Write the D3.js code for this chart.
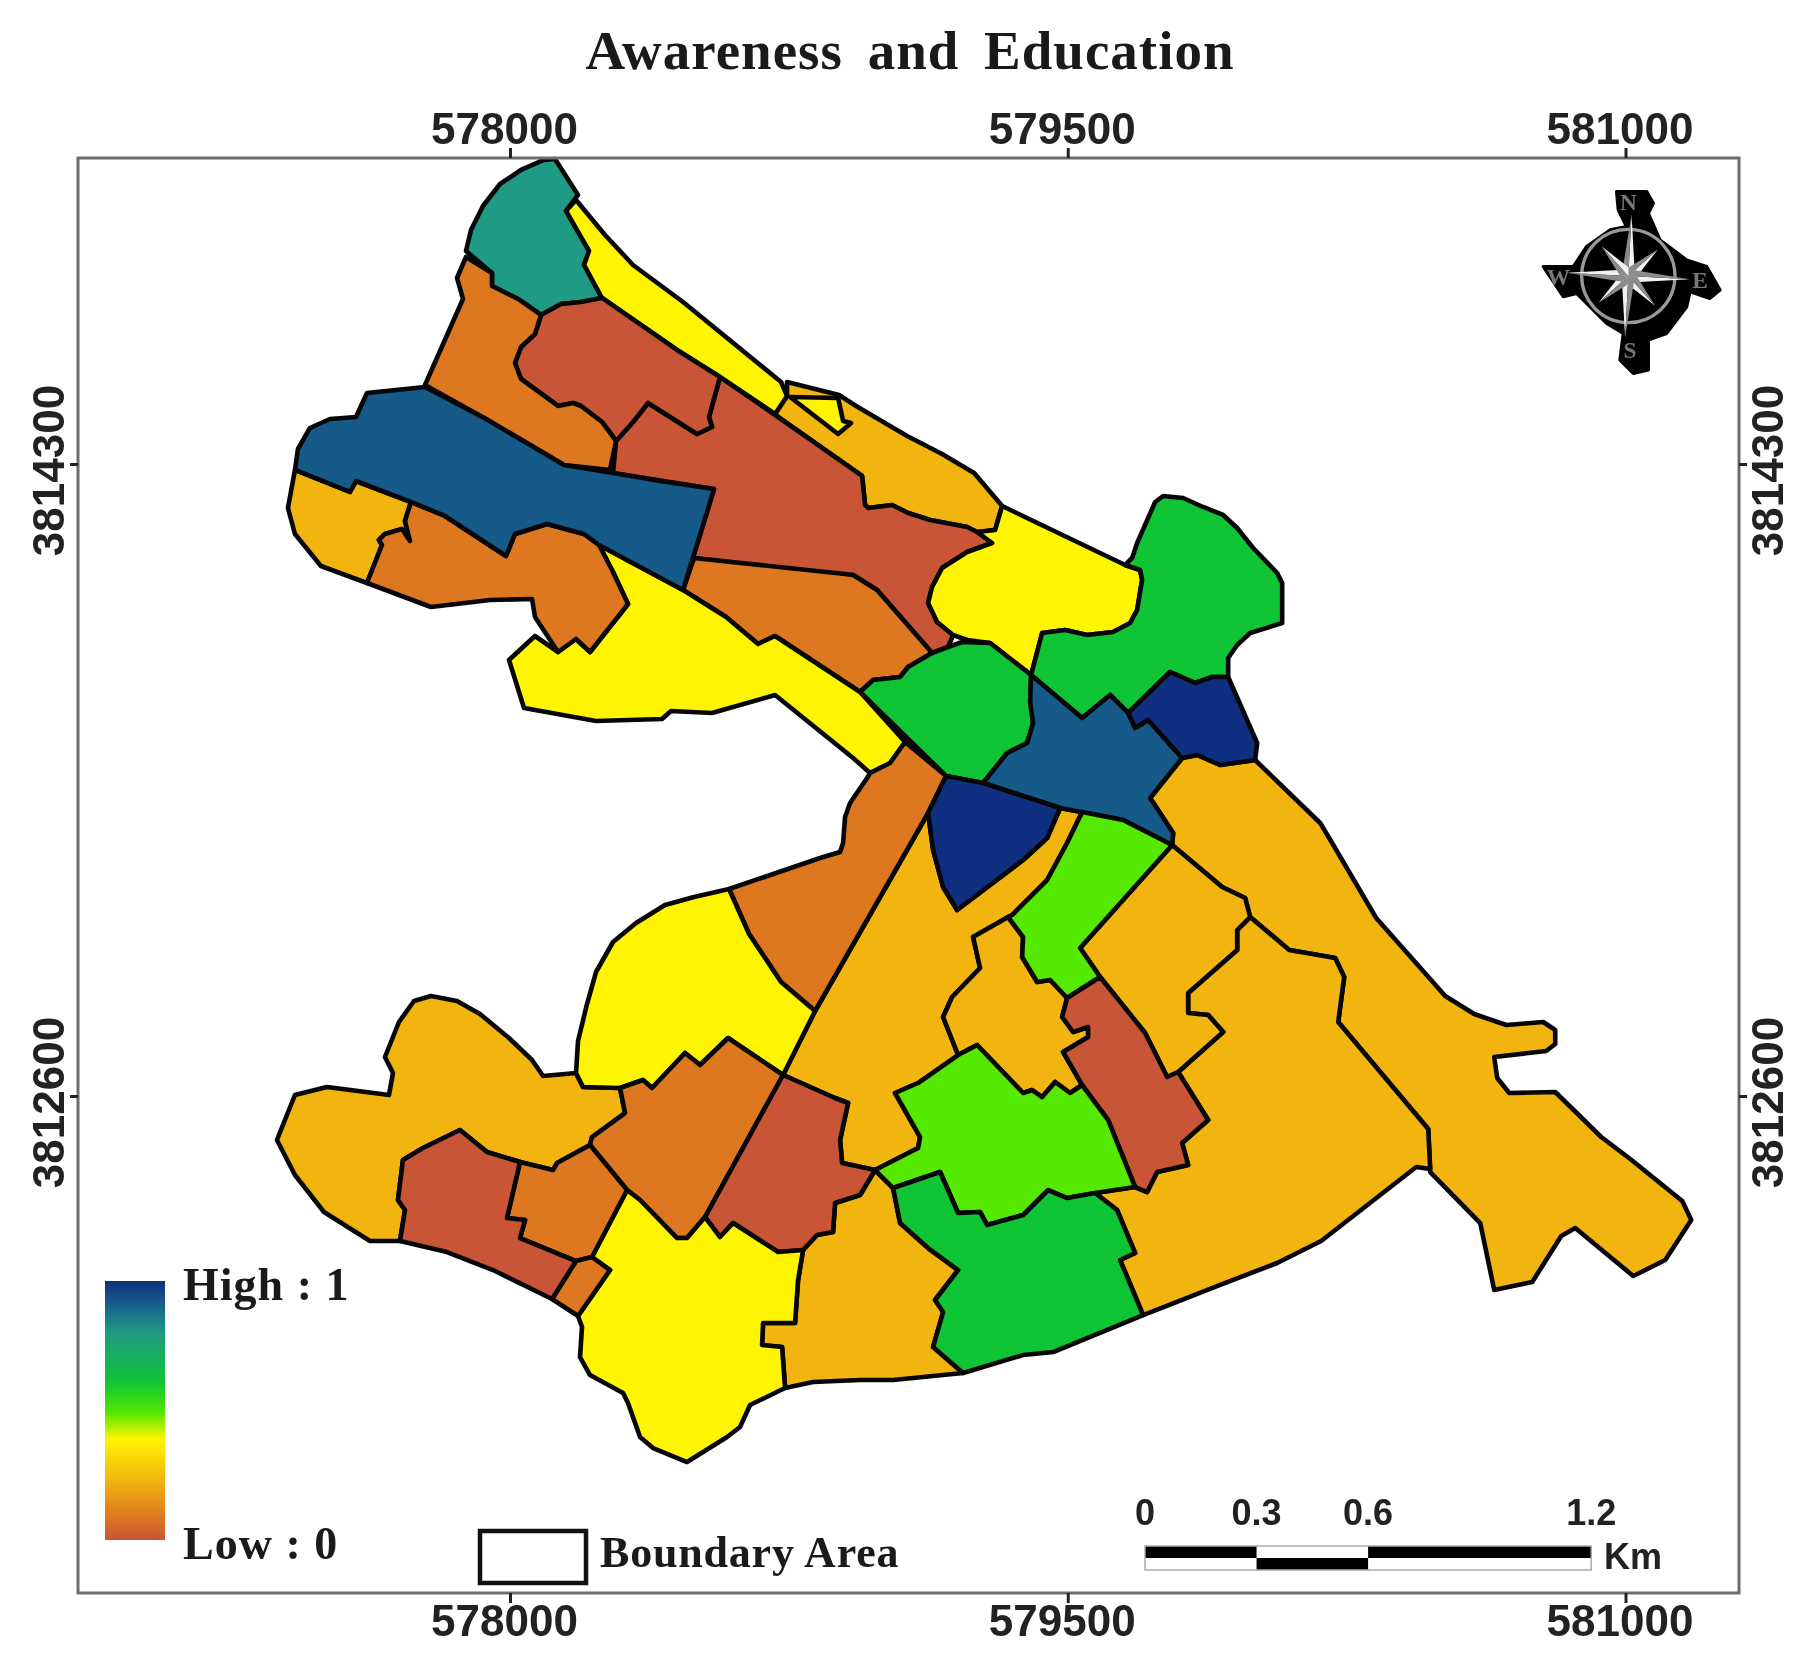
<!DOCTYPE html>
<html lang="en">
<head>
<meta charset="utf-8">
<title>Awareness and Education</title>
<script src="https://d3js.org/d3.v7.min.js"></script>
<style>
  html, body { margin: 0; background: #fff; }
  svg { display: block; filter: blur(0.6px); }
  .sans { font-family: "Liberation Sans", Arial, sans-serif; font-weight: bold; fill: #222; }
  .serif { font-family: "Liberation Serif", "Times New Roman", serif; font-weight: bold; fill: #1a1a1a; }
</style>
</head>
<body>
<div id="chart"></div>
<script>
// tick labels of the map grid
var eastingTicks = [578000, 579500, 581000];
var northingTicks = [3814300, 3812600];

// colour ramp of the legend, low to high
var rampValues = [0, 0.09, 0.23, 0.39, 0.49, 0.61, 0.80, 0.92, 1];
var rampColors = ["#c95537", "#dd7820", "#f2b50f", "#fff500", "#55e800", "#10c535", "#1f9a85", "#165a8a", "#0f2f80"];

// scale bar
var scaleKm = [0, 0.3, 0.6, 1.2];

// wards, digitised as [col, row] on a grid of 2.69 m cells
var teal = [[555,159],[578,195],[566,211],[589,251],[584,265],[602,298],[581,302],[561,304],[541,315],[518,299],[492,286],[492,273],[466,251],[471,230],[483,206],[500,184],[521,170],[544,160]];
var stripYellow = [[576,200],[605,235],[633,265],[683,302],[781,382],[787,396],[775,414],[720,377],[677,350],[602,298],[584,265],[589,251],[566,211]];
var goldNorth = [[775,414],[787,396],[787,382],[839,395],[856,406],[907,436],[942,454],[974,473],[997,500],[1002,506],[995,530],[977,532],[967,527],[930,520],[908,513],[892,505],[868,508],[865,505],[862,476],[778,417]];
var tinyYellow = [[790,397],[838,398],[843,421],[851,423],[838,434]];
var brickTop = [[541,315],[561,304],[581,302],[602,298],[677,350],[720,377],[709,417],[712,427],[697,434],[648,403],[633,422],[616,441],[602,422],[581,406],[573,403],[558,406],[521,379],[515,363],[521,347],[535,334]];
var orangeWest = [[466,257],[457,278],[463,299],[425,385],[486,419],[564,465],[610,470],[616,441],[602,422],[581,406],[573,403],[558,406],[521,379],[515,363],[521,347],[535,334],[541,315],[518,299],[492,286],[492,273]];
var brickMain = [[613,473],[616,441],[633,422],[648,403],[697,434],[712,427],[709,417],[720,377],[778,417],[862,476],[865,505],[868,508],[892,505],[908,513],[930,520],[967,527],[977,532],[992,543],[967,552],[942,568],[932,587],[928,603],[937,622],[953,635],[948,647],[932,653],[877,590],[853,575],[820,575],[694,558],[683,590],[714,489]];
var orangeMid = [[694,558],[845,574],[853,575],[877,590],[932,653],[908,667],[900,677],[873,680],[860,692],[775,636],[758,644],[726,617],[683,590]];
var blueLong = [[425,387],[367,393],[356,417],[330,419],[310,428],[298,449],[295,470],[350,492],[356,481],[411,502],[445,516],[506,556],[515,534],[547,524],[584,534],[599,545],[683,590],[714,489],[660,481],[613,473],[564,465],[486,419]];
var goldWest = [[295,470],[288,508],[295,534],[321,566],[367,583],[382,545],[379,540],[385,534],[402,529],[410,541],[405,521],[411,502],[356,481],[350,492]];
var orangeLobe = [[367,583],[431,607],[490,600],[532,599],[535,617],[558,652],[576,639],[590,652],[628,604],[613,572],[599,545],[584,534],[547,524],[515,534],[506,556],[445,516],[411,502],[405,521],[410,541],[402,529],[385,534],[379,540],[382,545]];
var yellowLobe = [[599,545],[683,590],[726,617],[758,644],[775,636],[860,692],[905,742],[890,763],[870,773],[853,758],[775,695],[712,713],[671,711],[662,719],[596,721],[524,708],[509,660],[535,636],[558,652],[576,639],[590,652],[628,604],[613,572]];
var yellowCap = [[1002,506],[1125,565],[1140,570],[1142,580],[1137,610],[1130,623],[1113,632],[1087,635],[1065,630],[1042,633],[1031,675],[990,643],[967,640],[953,635],[937,622],[928,603],[932,587],[942,568],[967,552],[992,543],[977,532],[995,530]];
var greenEast = [[1125,565],[1132,558],[1137,543],[1155,502],[1163,496],[1183,498],[1203,507],[1223,515],[1237,528],[1253,548],[1277,573],[1282,583],[1282,623],[1250,633],[1237,645],[1228,658],[1228,677],[1212,677],[1195,683],[1170,672],[1128,713],[1110,695],[1082,718],[1031,675],[1042,633],[1065,630],[1087,635],[1113,632],[1130,623],[1137,610],[1142,580],[1140,570]];
var greenMid = [[962,642],[990,643],[1031,675],[1030,702],[1033,723],[1027,743],[1007,753],[983,783],[946,776],[860,692],[873,680],[900,677],[908,667],[932,653],[948,647]];
var blueMid = [[1031,675],[1082,718],[1110,695],[1128,713],[1135,728],[1148,720],[1182,758],[1150,798],[1173,833],[1172,845],[1123,820],[1060,808],[983,783],[1007,753],[1027,743],[1033,723],[1030,702]];
var navyEast = [[1128,713],[1170,672],[1195,683],[1212,677],[1228,677],[1257,743],[1255,760],[1220,765],[1197,755],[1182,758],[1148,720],[1135,728]];
var navyMid = [[946,776],[983,783],[1060,808],[1047,838],[1023,860],[957,910],[943,887],[933,850],[928,813]];
var orangeNeck = [[870,773],[890,763],[905,742],[946,776],[928,813],[815,1011],[781,982],[749,934],[729,889],[820,858],[840,852],[843,843],[845,817],[850,803],[867,778]];
var yellowSouth = [[729,889],[694,897],[665,905],[636,923],[613,942],[596,972],[587,1004],[578,1041],[576,1073],[583,1087],[620,1088],[643,1080],[652,1088],[685,1053],[700,1065],[728,1038],[783,1075],[815,1011],[781,982],[749,934]];
var orangeS = [[728,1038],[700,1065],[685,1053],[652,1088],[643,1080],[620,1088],[625,1113],[592,1137],[590,1145],[627,1190],[640,1200],[677,1238],[687,1238],[705,1217],[783,1075]];
var brickS = [[783,1075],[705,1217],[720,1237],[733,1223],[778,1252],[803,1250],[817,1235],[833,1232],[835,1203],[860,1195],[875,1170],[842,1163],[840,1140],[848,1103],[835,1098]];
var goldCentre = [[928,813],[933,850],[943,887],[957,910],[1023,860],[1047,838],[1060,808],[1082,812],[1067,843],[1047,880],[1012,915],[973,937],[980,968],[952,997],[943,1017],[958,1055],[918,1083],[895,1093],[920,1137],[918,1148],[875,1170],[842,1163],[840,1140],[848,1103],[835,1098],[783,1075],[815,1011]];
var goldDiamond = [[1008,917],[973,937],[980,968],[952,997],[943,1017],[958,1055],[977,1045],[1023,1093],[1032,1090],[1042,1097],[1055,1082],[1070,1093],[1082,1085],[1063,1052],[1088,1037],[1088,1027],[1073,1032],[1062,1017],[1067,998],[1050,980],[1037,982],[1022,957],[1023,937]];
var limeStrip = [[1082,812],[1123,820],[1172,845],[1080,948],[1100,977],[1067,998],[1050,980],[1037,982],[1022,957],[1023,937],[1008,917],[1012,915],[1047,880],[1067,843]];
var goldRight = [[1172,845],[1080,948],[1100,977],[1145,1033],[1167,1077],[1178,1072],[1223,1032],[1208,1015],[1188,1013],[1188,993],[1237,950],[1237,930],[1250,917],[1245,898],[1222,887]];
var brickThin = [[1100,977],[1067,998],[1062,1017],[1073,1032],[1088,1027],[1088,1037],[1063,1052],[1082,1085],[1108,1120],[1135,1187],[1147,1192],[1157,1172],[1188,1165],[1182,1143],[1208,1120],[1178,1072],[1167,1077],[1145,1033]];
var goldBig = [[1250,917],[1289,950],[1335,958],[1344,977],[1338,1022],[1428,1129],[1430,1169],[1416,1167],[1321,1241],[1277,1263],[1222,1284],[1143,1315],[1120,1260],[1135,1253],[1117,1210],[1095,1193],[1135,1187],[1147,1192],[1157,1172],[1188,1165],[1182,1143],[1208,1120],[1178,1072],[1223,1032],[1208,1015],[1188,1013],[1188,993],[1237,950],[1237,930]];
var goldFar = [[1150,798],[1182,758],[1197,755],[1220,765],[1255,760],[1320,823],[1329,838],[1376,918],[1445,996],[1474,1014],[1506,1025],[1543,1022],[1555,1030],[1555,1044],[1546,1051],[1494,1057],[1497,1078],[1509,1093],[1555,1092],[1601,1137],[1630,1159],[1682,1201],[1691,1220],[1665,1260],[1633,1276],[1575,1228],[1561,1236],[1532,1282],[1494,1290],[1480,1223],[1430,1172],[1428,1129],[1338,1022],[1344,977],[1335,958],[1289,950],[1250,917],[1245,898],[1222,887],[1172,845],[1173,833]];
var limeBig = [[977,1045],[1023,1093],[1032,1090],[1042,1097],[1055,1082],[1070,1093],[1082,1085],[1108,1120],[1135,1187],[1095,1193],[1067,1198],[1048,1190],[1023,1215],[987,1225],[980,1212],[958,1213],[940,1172],[893,1188],[875,1170],[918,1148],[920,1137],[895,1093],[918,1083],[958,1055]];
var greenSouth = [[893,1188],[940,1172],[958,1213],[980,1212],[987,1225],[1023,1215],[1048,1190],[1067,1198],[1095,1193],[1117,1210],[1135,1253],[1120,1260],[1143,1315],[1053,1352],[1023,1355],[963,1373],[933,1347],[943,1312],[935,1300],[958,1270],[928,1248],[900,1223]];
var goldSouth = [[803,1250],[817,1235],[833,1232],[835,1203],[860,1195],[875,1170],[893,1188],[900,1223],[928,1248],[958,1270],[935,1300],[943,1312],[933,1347],[963,1373],[893,1380],[860,1380],[813,1382],[785,1388],[782,1347],[762,1345],[763,1323],[795,1323],[798,1280]];
var yellowFoot = [[627,1190],[640,1200],[677,1238],[687,1238],[705,1217],[720,1237],[733,1223],[778,1252],[803,1250],[798,1280],[795,1323],[763,1323],[762,1345],[782,1347],[785,1388],[750,1405],[740,1427],[727,1437],[687,1462],[653,1448],[640,1437],[628,1403],[623,1393],[590,1375],[580,1357],[582,1327],[578,1316],[610,1270],[592,1257]];
var orangeF = [[590,1145],[627,1190],[592,1257],[576,1261],[520,1238],[525,1220],[507,1218],[520,1162],[553,1170],[557,1163]];
var orangeG = [[576,1261],[592,1257],[610,1270],[578,1316],[552,1299]];
var brickH = [[460,1130],[487,1152],[520,1162],[507,1218],[525,1220],[520,1238],[576,1261],[552,1299],[493,1270],[447,1252],[400,1241],[405,1210],[398,1200],[403,1160],[423,1148]];
var goldSW = [[431,996],[414,1001],[399,1022],[385,1057],[393,1073],[389,1095],[327,1087],[295,1095],[277,1140],[295,1175],[324,1212],[370,1241],[400,1241],[405,1210],[398,1200],[403,1160],[423,1148],[460,1130],[487,1152],[520,1162],[553,1170],[557,1163],[590,1145],[592,1137],[625,1113],[620,1088],[583,1087],[576,1073],[543,1076],[532,1060],[509,1038],[480,1014],[457,1001]];

var wardRings = [goldSW, goldNorth, goldFar, goldBig, goldRight, goldCentre, goldDiamond, goldSouth, goldWest,
  brickMain, orangeMid, yellowLobe, orangeNeck, yellowSouth, teal, stripYellow, tinyYellow, brickTop, orangeWest,
  orangeLobe, blueLong, yellowCap, greenEast, greenMid, blueMid, navyEast, navyMid, orangeS, brickS, limeStrip,
  brickThin, limeBig, greenSouth, yellowFoot, orangeF, orangeG, brickH];
var wardValues = [0.23, 0.23, 0.23, 0.23, 0.23, 0.23, 0.23, 0.23, 0.23,
  0, 0.09, 0.39, 0.09, 0.39, 0.80, 0.39, 0.39, 0, 0.09,
  0.09, 0.92, 0.39, 0.61, 0.61, 0.92, 1, 1, 0.09, 0, 0.49,
  0, 0.49, 0.61, 0.39, 0.09, 0.09, 0];

var width = 1814, height = 1676;
var CELL_M = 2.69, E0 = 576628.1, N0 = 3815548.2;

var svg = d3.select("#chart").append("svg").attr("width", width).attr("height", height);

var frame = {left: 78, right: 1739, top: 158, bottom: 1593};
var x = d3.scaleLinear().domain([578000, 581000]).range([510, 1625.5]);
var y = d3.scaleLinear().domain([3814300, 3812600]).range([464, 1096]);
var color = d3.scaleLinear().domain(rampValues).range(rampColors);

// title
svg.append("text").attr("class", "serif")
  .attr("x", 910).attr("y", 69)
  .attr("text-anchor", "middle")
  .style("font-size", "55px").style("word-spacing", "10px").style("letter-spacing", "1px")
  .text("Awareness and Education");

// wards
var line = d3.line()
  .x(function (d) { return x(E0 + d[0] * CELL_M); })
  .y(function (d) { return y(N0 - d[1] * CELL_M); });

// black underlay so small mismatches between neighbours read as boundary
svg.append("g").selectAll("path")
  .data(wardRings)
  .join("path")
  .attr("d", function (d) { return line(d) + "Z"; })
  .attr("fill", "#060606");

svg.append("g").selectAll("path")
  .data(wardRings)
  .join("path")
  .attr("d", function (d) { return line(d) + "Z"; })
  .attr("fill", function (d, i) { return color(wardValues[i]); })
  .attr("stroke", "#060606")
  .attr("stroke-width", 4.6)
  .attr("stroke-linejoin", "round");

// frame
svg.append("rect")
  .attr("x", frame.left).attr("y", frame.top)
  .attr("width", frame.right - frame.left).attr("height", frame.bottom - frame.top)
  .attr("fill", "none").attr("stroke", "#6e6e6e").attr("stroke-width", 3);

// axes on the four sides
function styleAxis(g) {
  g.select(".domain").remove();
  g.selectAll(".tick line").attr("stroke", "#222").attr("stroke-width", 3);
  g.selectAll(".tick text").attr("class", "sans").style("font-size", "44px");
}
var fmt = d3.format("d");

svg.append("g").attr("transform", "translate(0," + frame.top + ")")
  .call(d3.axisTop(x).tickValues(eastingTicks).tickFormat(fmt).tickSize(10).tickPadding(4))
  .call(styleAxis).attr("font-family", null)
  .selectAll(".tick text").attr("dx", -6);

svg.append("g").attr("transform", "translate(0," + frame.bottom + ")")
  .call(d3.axisBottom(x).tickValues(eastingTicks).tickFormat(fmt).tickSize(10).tickPadding(2))
  .call(styleAxis).attr("font-family", null)
  .selectAll(".tick text").attr("dx", -6);

svg.append("g").attr("transform", "translate(" + frame.left + ",0)")
  .call(d3.axisLeft(y).tickValues(northingTicks).tickFormat(fmt).tickSize(8))
  .call(styleAxis).attr("font-family", null)
  .selectAll(".tick text")
  .attr("text-anchor", "middle").attr("dy", 0)
  .attr("transform", "translate(-14,6) rotate(-90)").attr("x", 0).attr("y", 0);

svg.append("g").attr("transform", "translate(" + frame.right + ",0)")
  .call(d3.axisRight(y).tickValues(northingTicks).tickFormat(fmt).tickSize(8))
  .call(styleAxis).attr("font-family", null)
  .selectAll(".tick text")
  .attr("text-anchor", "middle").attr("dy", 0)
  .attr("transform", "translate(44,6) rotate(-90)").attr("x", 0).attr("y", 0);

// legend ramp
var legendY = d3.scaleLinear().domain([0, 1]).range([1540, 1281]);
var grad = svg.append("defs").append("linearGradient")
  .attr("id", "ramp").attr("x1", 0).attr("x2", 0).attr("y1", 1).attr("y2", 0);
grad.selectAll("stop").data(rampValues).join("stop")
  .attr("offset", function (d) { return d; })
  .attr("stop-color", function (d, i) { return rampColors[i]; });
svg.append("rect")
  .attr("x", 105).attr("width", 60)
  .attr("y", legendY(1)).attr("height", legendY(0) - legendY(1))
  .attr("fill", "url(#ramp)");
svg.append("text").attr("class", "serif").attr("x", 183).attr("y", 1300)
  .style("font-size", "46px").style("letter-spacing", "1px").text("High : 1");
svg.append("text").attr("class", "serif").attr("x", 183).attr("y", 1559)
  .style("font-size", "46px").style("letter-spacing", "1px").text("Low : 0");

// boundary key
svg.append("rect").attr("x", 480).attr("y", 1531).attr("width", 106).attr("height", 52)
  .attr("fill", "#fff").attr("stroke", "#111").attr("stroke-width", 4.5);
svg.append("text").attr("class", "serif").attr("x", 600).attr("y", 1567)
  .style("font-size", "44px").style("letter-spacing", "0.8px").text("Boundary Area");

// scale bar, 1 km taken from the map scale
var km = d3.scaleLinear().domain([0, 1.2]).range([1145, 1145 + (x(579200) - x(578000))]);
var barTop = 1546, barMid = 1558, barBottom = 1570;
svg.append("g").selectAll("rect")
  .data(d3.pairs(scaleKm))
  .join("rect")
  .attr("x", function (d) { return km(d[0]); })
  .attr("width", function (d) { return km(d[1]) - km(d[0]); })
  .attr("y", function (d, i) { return i === 1 ? barMid : barTop; })
  .attr("height", barMid - barTop)
  .attr("fill", "#000");
svg.append("rect")
  .attr("x", km(0)).attr("width", km(1.2) - km(0))
  .attr("y", barTop).attr("height", barBottom - barTop)
  .attr("fill", "none").attr("stroke", "#aaa").attr("stroke-width", 1.5);
svg.append("g").selectAll("text")
  .data(scaleKm)
  .join("text")
  .attr("class", "sans")
  .attr("x", function (d) { return km(d); })
  .attr("y", 1525)
  .attr("text-anchor", "middle")
  .style("font-size", "36px")
  .text(function (d) { return d; });
svg.append("text").attr("class", "sans").attr("x", 1604).attr("y", 1569)
  .style("font-size", "36px").text("Km");

// north arrow
var compassBlob = [[290,65],[380,65],[400,100],[385,130],[420,210],[500,270],[560,290],[600,360],[570,385],[510,365],[500,410],[440,490],[385,510],[385,600],[340,610],[300,570],[310,490],[260,460],[170,370],[130,380],[70,290],[160,290],[200,230],[270,180],[320,170],[295,120]];
var compass = svg.append("g").attr("transform", "translate(1520,170) scale(0.3333)");
compass.append("path")
  .attr("d", d3.line()(compassBlob) + "Z")
  .attr("fill", "#000").attr("stroke", "#000").attr("stroke-width", 10).attr("stroke-linejoin", "round");
var rose = compass.append("g").attr("transform", "translate(325,318) rotate(3)");
rose.append("circle").attr("r", 140).attr("fill", "none").attr("stroke", "#999").attr("stroke-width", 10);
d3.range(8).forEach(function (i) {
  var len = i % 2 === 0 ? 185 : 120;
  rose.append("path")
    .attr("d", d3.line()([[0, -len], [18, -18], [0, 0]]) + "Z")
    .attr("transform", "rotate(" + (i * 45) + ")")
    .attr("fill", "#f2f2f2");
  rose.append("path")
    .attr("d", d3.line()([[0, -len], [-18, -18], [0, 0]]) + "Z")
    .attr("transform", "rotate(" + (i * 45) + ")")
    .attr("fill", "#8c8c8c");
});
compass.selectAll("text.dir")
  .data([["N", 325, 120], ["S", 330, 565], ["W", 115, 345], ["E", 540, 355]])
  .join("text")
  .attr("class", "dir")
  .attr("x", function (d) { return d[1]; })
  .attr("y", function (d) { return d[2]; })
  .attr("text-anchor", "middle")
  .style("font-family", "Liberation Serif").style("font-weight", "bold").style("font-size", "70px")
  .attr("fill", "#777")
  .text(function (d) { return d[0]; });
</script>
</body>
</html>
